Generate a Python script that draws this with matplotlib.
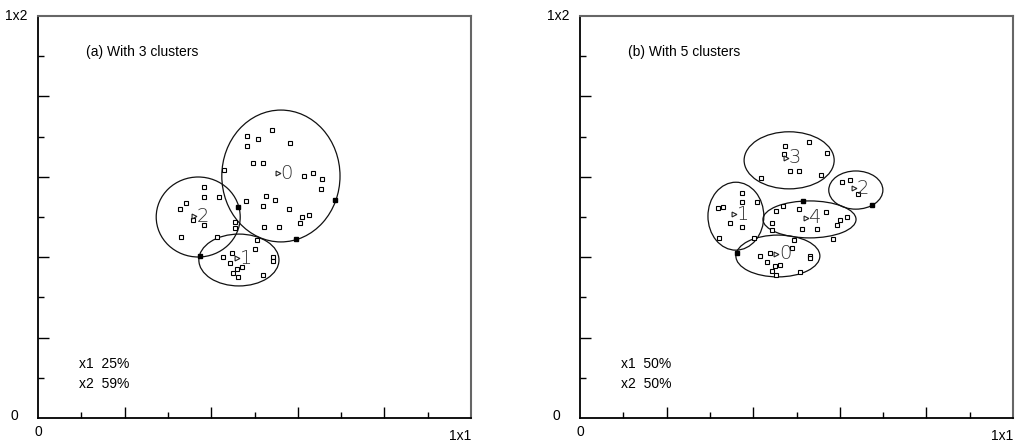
import numpy as np
import matplotlib.pyplot as plt
from matplotlib.patches import Ellipse

plt.rcParams['font.family'] = ['Liberation Sans', 'DejaVu Sans']

# panel (a): 3 clusters, coordinates in 0..1 units of x1 / x2
a_titulo = '(a) With 3 clusters'
a_pct = ['x1  25%', 'x2  59%']
a_centros = [(0.554, 0.609), (0.460, 0.398), (0.360, 0.502)]
a_elipses = [(0.561, 0.602, 0.273, 0.328), (0.464, 0.393, 0.185, 0.129),
             (0.370, 0.500, 0.194, 0.199)]
a_x = [0.540, 0.483, 0.508, 0.483, 0.583, 0.497, 0.519, 0.430, 0.614, 0.636,
       0.657, 0.653, 0.526, 0.547, 0.480, 0.519, 0.579, 0.610, 0.626, 0.604,
       0.522, 0.557, 0.505,
       0.383, 0.383, 0.419, 0.341, 0.327, 0.359, 0.383, 0.330, 0.413, 0.455, 0.455,
       0.427, 0.447, 0.443, 0.501, 0.543, 0.543, 0.472, 0.459, 0.451, 0.461, 0.519]
a_y = [0.716, 0.702, 0.695, 0.677, 0.684, 0.635, 0.635, 0.617, 0.603, 0.610,
       0.595, 0.570, 0.552, 0.542, 0.539, 0.527, 0.521, 0.499, 0.506, 0.484,
       0.474, 0.474, 0.443,
       0.574, 0.549, 0.549, 0.535, 0.521, 0.493, 0.481, 0.450, 0.450, 0.488, 0.472,
       0.400, 0.410, 0.385, 0.421, 0.400, 0.391, 0.375, 0.371, 0.360, 0.350, 0.356]
a_llenos_x = [0.461, 0.686, 0.596, 0.373]
a_llenos_y = [0.524, 0.542, 0.446, 0.404]

# panel (b): 5 clusters
b_titulo = '(b) With 5 clusters'
b_pct = ['x1  50%', 'x2  50%']
b_centros = [(0.453, 0.408), (0.356, 0.507), (0.633, 0.572), (0.476, 0.647),
             (0.522, 0.498)]
b_elipses = [(0.457, 0.403, 0.194, 0.104), (0.360, 0.502, 0.129, 0.169),
             (0.637, 0.567, 0.125, 0.095), (0.483, 0.641, 0.208, 0.142),
             (0.530, 0.494, 0.215, 0.092)]
b_x = [0.473, 0.528, 0.570, 0.471, 0.485, 0.506, 0.419, 0.556,
       0.604, 0.624, 0.643,
       0.373, 0.373, 0.409, 0.318, 0.331, 0.346, 0.373, 0.321, 0.403,
       0.453, 0.468, 0.506, 0.568, 0.616, 0.600, 0.593, 0.443, 0.512, 0.547,
       0.443, 0.585, 0.494,
       0.439, 0.416, 0.433, 0.490, 0.531, 0.531, 0.462, 0.450, 0.443, 0.452, 0.508]
b_y = [0.677, 0.687, 0.658, 0.657, 0.614, 0.614, 0.598, 0.604,
       0.586, 0.592, 0.557,
       0.560, 0.538, 0.538, 0.522, 0.524, 0.486, 0.476, 0.448, 0.449,
       0.516, 0.527, 0.519, 0.512, 0.499, 0.493, 0.479, 0.484, 0.471, 0.471,
       0.468, 0.446, 0.443,
       0.411, 0.403, 0.389, 0.424, 0.403, 0.397, 0.381, 0.378, 0.366, 0.356, 0.364]
b_llenos_x = [0.516, 0.674, 0.362]
b_llenos_y = [0.541, 0.530, 0.410]


def panel(ax, titulo, pct, centros, elipses, px, py, fx, fy):
    for (cx, cy, w, h) in elipses:
        ax.add_patch(Ellipse((cx, cy), w, h, fill=False, ec='#111111', lw=0.9))
    ax.plot(px, py, 's', ms=3, mfc='white', mec='black', mew=0.8, ls='none')
    ax.plot(fx, fy, 's', ms=2.5, mfc='black', mec='black', ls='none')
    for i, (cx, cy) in enumerate(centros):
        ax.plot(cx, cy, '>', ms=3.5, mfc='white', mec='#222222', mew=0.8)
        ax.annotate(str(i), (cx, cy), xytext=(2, 0), textcoords='offset points',
                    fontsize=14, color='#333333', va='center', ha='left',
                    family='DejaVu Sans', fontweight='light')
    ax.text(0.11, 0.9, titulo, transform=ax.transAxes, fontsize=10)
    ax.text(0.094, 0.125, pct[0], transform=ax.transAxes, fontsize=10)
    ax.text(0.094, 0.075, pct[1], transform=ax.transAxes, fontsize=10)

    ax.set_xlim(0, 1)
    ax.set_ylim(0, 1)
    ax.set_xticks(np.arange(0.2, 1.0, 0.2))
    ax.set_yticks(np.arange(0.2, 1.0, 0.2))
    ax.set_xticks(np.arange(0.1, 1.0, 0.2), minor=True)
    ax.set_yticks(np.arange(0.1, 1.0, 0.2), minor=True)
    ax.tick_params(which='major', direction='in', length=8, width=1,
                   labelbottom=False, labelleft=False)
    ax.tick_params(which='minor', direction='in', length=4, width=1)
    for lado in ['left', 'bottom']:
        ax.spines[lado].set_linewidth(1.3)
    for lado in ['top', 'right']:
        ax.spines[lado].set_color('#666666')
        ax.spines[lado].set_linewidth(1.5)

    ax.text(-0.025, 1.0, '1x2', transform=ax.transAxes, ha='right', va='center', fontsize=10)
    ax.text(-0.045, 0.005, '0', transform=ax.transAxes, ha='right', va='center', fontsize=10)
    ax.text(0.0, -0.018, '0', transform=ax.transAxes, ha='center', va='top', fontsize=10)
    ax.text(1.0, -0.054, '1x1', transform=ax.transAxes, ha='right', va='baseline', fontsize=10)


fig = plt.figure(figsize=(10.29, 4.43), dpi=100)
ax1 = fig.add_axes([38 / 1029, 25 / 443, 433 / 1029, 402 / 443])
ax2 = fig.add_axes([580 / 1029, 25 / 443, 433 / 1029, 402 / 443])

panel(ax1, a_titulo, a_pct, a_centros, a_elipses, a_x, a_y, a_llenos_x, a_llenos_y)
panel(ax2, b_titulo, b_pct, b_centros, b_elipses, b_x, b_y, b_llenos_x, b_llenos_y)

fig.savefig('out.png', dpi=100)
